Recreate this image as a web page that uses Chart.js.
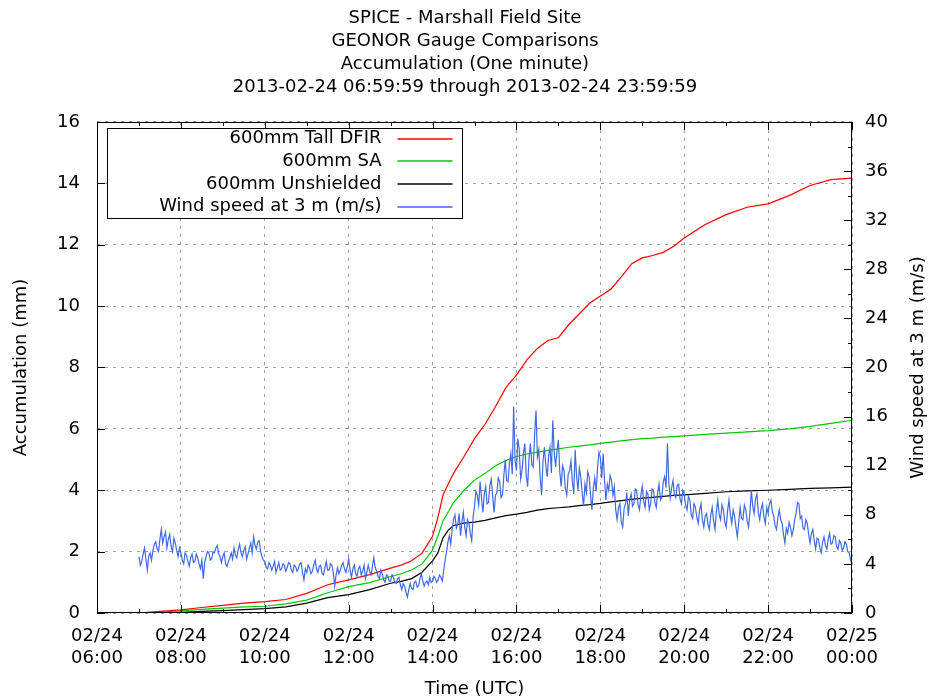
<!DOCTYPE html>
<html>
<head>
<meta charset="utf-8">
<title>SPICE - Marshall Field Site</title>
<script src="https://cdn.jsdelivr.net/npm/chart.js@4/dist/chart.umd.min.js"></script>
<style>
  html, body { margin: 0; padding: 0; background: #fff; }
  canvas { display: block; }
</style>
</head>
<body>
<canvas id="accChart" width="930" height="700"></canvas>
<script>
// ---- data (hours UTC on 2013-02-24, 24 = 02/25 00:00) ----
var accTimes = [7.0, 7.5, 8, 8.5, 9, 9.5, 10, 10.5, 11, 11.5, 12, 12.5, 13, 13.25, 13.5, 13.75,
  14, 14.125, 14.25, 14.375, 14.5, 14.75, 15, 15.25, 15.5, 15.75, 16, 16.25, 16.5, 16.75,
  17, 17.25, 17.5, 17.75, 18, 18.25, 18.5, 18.75, 19, 19.25, 19.5, 19.75, 20, 20.5, 21,
  21.5, 22, 22.5, 23, 23.5, 24];

var tallDfir = [0, 0.05, 0.1, 0.18, 0.25, 0.32, 0.37, 0.44, 0.64, 0.92, 1.08, 1.25, 1.46, 1.56, 1.7, 1.95,
  2.5, 3.1, 3.85, 4.2, 4.55, 5.1, 5.68, 6.15, 6.72, 7.35, 7.75, 8.25, 8.62, 8.88,
  8.97, 9.4, 9.75, 10.1, 10.33, 10.55, 10.95, 11.38, 11.57, 11.65, 11.75, 11.95, 12.22, 12.66, 12.98,
  13.22, 13.33, 13.6, 13.93, 14.12, 14.17];

var sa600 = [0, 0.02, 0.07, 0.12, 0.16, 0.2, 0.22, 0.3, 0.42, 0.66, 0.86, 0.99, 1.19, 1.28, 1.4, 1.6,
  2.05, 2.5, 3.0, 3.3, 3.6, 4.0, 4.33, 4.55, 4.8, 4.97, 5.1, 5.18, 5.24, 5.3,
  5.35, 5.4, 5.44, 5.48, 5.53, 5.57, 5.61, 5.65, 5.68, 5.7, 5.73, 5.75, 5.77, 5.82, 5.86,
  5.9, 5.94, 6.0, 6.08, 6.18, 6.28];

var unshielded = [0, 0, 0.02, 0.05, 0.08, 0.11, 0.14, 0.2, 0.32, 0.5, 0.6, 0.76, 0.97, 1.03, 1.12, 1.33,
  1.7, 1.95, 2.45, 2.7, 2.85, 2.93, 2.96, 3.02, 3.1, 3.17, 3.22, 3.28, 3.35, 3.4,
  3.43, 3.46, 3.5, 3.53, 3.57, 3.62, 3.66, 3.7, 3.74, 3.77, 3.8, 3.83, 3.85, 3.9, 3.95,
  3.98, 4.0, 4.03, 4.06, 4.08, 4.1];

// wind speed, one reading every 2 minutes from 07:00 (one row per hour)
var windStart = 7;
var windStepMin = 2;
var windSpeed = [
  4.6, 3.9, 4.2, 4.8, 5.3, 4.4, 3.5, 4.6, 4.9, 4.3, 5.1, 5.6, 5.8, 5.2, 5.0, 6.0, 6.8, 5.7, 6.2, 6.6, 5.3, 6.0, 6.4, 5.4, 5.0, 6.1, 5.7, 5.1, 4.6, 5.3,
  4.9, 4.3, 4.0, 4.9, 4.7, 4.2, 3.8, 4.5, 4.8, 4.1, 4.2, 4.8, 4.5, 4.0, 3.6, 4.3, 2.8, 4.1, 4.6, 5.0, 4.9, 4.3, 4.4, 5.0, 4.9, 5.3, 5.5, 4.8, 4.6, 4.1,
  4.6, 4.9, 4.0, 3.8, 4.2, 4.5, 4.9, 4.4, 5.3, 4.7, 4.5, 5.2, 5.6, 4.9, 4.6, 5.1, 5.4, 4.4, 4.8, 5.3, 5.7, 4.9, 6.2, 5.5, 5.2, 5.8, 5.9, 5.0, 4.6, 4.3,
  4.2, 3.7, 3.6, 4.1, 3.9, 3.5, 3.8, 4.2, 3.3, 3.7, 4.1, 3.5, 3.6, 4.0, 3.9, 3.4, 3.7, 4.1, 4.0, 3.5, 3.3, 3.9, 3.8, 3.4, 3.6, 4.0, 4.1, 3.3, 2.7, 3.6,
  3.3, 3.9, 3.7, 3.2, 3.4, 3.9, 4.3, 3.6, 3.3, 3.8, 3.9, 3.2, 3.1, 3.7, 4.2, 3.5, 3.5, 4.0, 3.9, 3.3, 2.2, 3.1, 3.7, 3.2, 3.5, 3.9, 4.1, 3.6, 3.3, 3.8,
  4.4, 3.5, 2.9, 3.6, 3.9, 3.2, 3.0, 3.6, 3.8, 3.1, 3.4, 3.9, 2.8, 3.3, 3.9, 3.4, 3.1, 3.8, 4.5, 3.7, 3.4, 3.0, 2.8, 3.5, 3.2, 2.7, 2.5, 3.1, 3.0, 2.6,
  2.6, 3.1, 2.9, 2.5, 2.4, 2.8, 2.9, 2.3, 1.9, 2.4, 2.2, 1.7, 1.3, 1.9, 2.4, 2.0, 1.9, 2.5, 2.6, 2.1, 2.2, 2.8, 3.2, 2.6, 2.2, 2.5, 2.6, 2.3, 2.9, 2.5,
  2.6, 3.0, 2.8, 2.5, 2.7, 3.1, 2.9, 2.6, 3.5, 4.3, 5.0, 5.8, 6.3, 5.6, 6.8, 7.6, 8.0, 6.9, 7.2, 8.1, 6.3, 7.4, 8.2, 7.0, 6.3, 7.6, 7.3, 6.5, 5.9, 7.8,
  8.7, 9.9, 9.6, 8.8, 10.7, 9.4, 8.2, 9.7, 10.3, 8.9, 9.0, 10.4, 10.9, 9.5, 8.2, 9.6, 9.8, 11.0, 10.7, 9.4, 9.6, 11.2, 12.5, 10.8, 10.7, 12.2, 13.0, 11.3, 16.8, 12.4,
  11.6, 14.2, 13.3, 10.9, 11.6, 13.0, 13.8, 11.2, 10.3, 12.6, 13.8, 12.1, 11.9, 14.5, 16.5, 12.7, 13.3, 11.0, 9.6, 12.4, 13.5, 12.0, 11.1, 12.8, 13.5, 11.4, 15.7, 13.1, 11.9, 13.2,
  14.1, 11.5, 10.3, 12.0, 11.6, 10.1, 9.6, 11.3, 11.6, 12.4, 10.7, 9.7, 13.3, 11.2, 10.0, 11.8, 11.1, 9.8, 8.7, 10.5, 9.8, 11.5, 11.1, 9.6, 8.4, 10.2, 11.0, 9.9, 11.8, 13.1,
  12.7, 11.0, 13.0, 10.8, 9.2, 10.5, 10.0, 11.2, 10.8, 9.6, 10.3, 8.4, 7.6, 8.6, 8.9, 7.4, 7.0, 8.5, 8.9, 9.8, 7.9, 9.2, 9.7, 8.7, 8.9, 10.1, 10.0, 8.8, 8.4, 9.6,
  10.3, 9.1, 8.6, 9.9, 9.7, 8.4, 8.9, 10.1, 10.0, 9.0, 8.6, 9.8, 10.5, 9.2, 9.4, 10.7, 11.1, 10.2, 13.8, 10.6, 9.4, 10.2, 10.8, 9.6, 9.4, 10.4, 10.5, 9.3, 8.9, 10.0,
  9.7, 8.8, 8.4, 9.5, 9.2, 8.0, 7.7, 8.9, 8.6, 7.8, 7.3, 8.4, 8.9, 7.6, 7.0, 7.9, 8.1, 7.2, 6.8, 8.0, 8.6, 7.5, 6.8, 8.3, 9.2, 8.0, 7.6, 8.8, 8.4, 7.4,
  7.0, 8.3, 9.2, 8.0, 7.3, 8.4, 7.9, 7.0, 6.2, 7.4, 8.6, 7.7, 7.6, 8.8, 8.4, 7.5, 7.0, 8.2, 10.0, 8.7, 8.1, 9.3, 9.7, 8.2, 7.6, 8.5, 8.9, 7.8, 7.3, 8.6,
  8.1, 8.9, 9.2, 8.3, 7.9, 7.1, 6.8, 7.8, 8.4, 7.6, 7.3, 6.4, 5.7, 6.9, 6.5, 7.4, 7.0, 6.3, 6.8, 7.6, 8.1, 9.0, 8.9, 7.7, 7.9, 6.9, 6.8, 7.6, 7.3, 6.4,
  5.7, 6.5, 6.8, 5.9, 5.2, 6.1, 6.0, 5.3, 4.9, 5.8, 6.2, 5.5, 5.2, 6.0, 6.5, 5.6, 5.7, 6.3, 6.2, 5.4, 5.2, 5.9, 5.7, 5.1, 5.3, 5.8, 5.6, 5.0, 4.9, 4.3,
  4.0
];

var seriesLabels = ['600mm Tall DFIR', '600mm SA', '600mm Unshielded', 'Wind speed at 3 m (m/s)'];
var seriesColors = ['#ff0000', '#00c800', '#000000', '#4169e1'];
var titleLines = ['SPICE - Marshall Field Site', 'GEONOR Gauge Comparisons',
  'Accumulation (One minute)', '2013-02-24 06:59:59 through 2013-02-24 23:59:59'];

var FONT = 'DejaVu Sans';

function pairs(xs, ys) {
  return ys.map(function (v, i) { return {x: xs[i], y: v}; });
}
var windPoints = windSpeed.map(function (v, i) {
  return {x: windStart + i * windStepMin / 60, y: v};
});

// plot frame plus gnuplot style inward ticks
var frameTicks = {
  id: 'frameTicks',
  afterDatasetsDraw: function (chart) {
    var ctx = chart.ctx, a = chart.chartArea;
    var x = chart.scales.x, y = chart.scales.y, y2 = chart.scales.y2;
    ctx.save();
    ctx.strokeStyle = '#000';
    ctx.lineWidth = 1;
    ctx.beginPath();
    var h, v, p, len;
    for (h = 6; h <= 24; h += 1) {
      p = Math.round(x.getPixelForValue(h)) + 0.5;
      len = h % 2 === 0 ? 8 : 4;
      ctx.moveTo(p, a.bottom); ctx.lineTo(p, a.bottom - len);
      ctx.moveTo(p, a.top); ctx.lineTo(p, a.top + len);
    }
    for (v = 0; v <= 16; v += 2) {
      p = Math.round(y.getPixelForValue(v)) + 0.5;
      ctx.moveTo(a.left, p); ctx.lineTo(a.left + 8, p);
    }
    for (v = 0; v <= 40; v += 2) {
      p = Math.round(y2.getPixelForValue(v)) + 0.5;
      len = v % 4 === 0 ? 8 : 4;
      ctx.moveTo(a.right, p); ctx.lineTo(a.right - len, p);
    }
    ctx.stroke();
    ctx.strokeRect(Math.round(a.left) + 0.5, Math.round(a.top) + 0.5,
      Math.round(a.right - a.left) - 1, Math.round(a.bottom - a.top) - 1);
    ctx.restore();
  }
};

// key box in the top left corner, text on the left of the sample line
var keyBox = {
  id: 'keyBox',
  afterDraw: function (chart) {
    var ctx = chart.ctx, a = chart.chartArea;
    var left = Math.round(a.left) + 10.5, top = Math.round(a.top) + 6.5;
    var w = 355, rowH = 22.7;
    ctx.save();
    ctx.fillStyle = '#fff';
    ctx.fillRect(left, top, w, 90);
    ctx.strokeStyle = '#000';
    ctx.lineWidth = 1;
    ctx.strokeRect(left, top, w, 90);
    ctx.font = '18px "' + FONT + '"';
    ctx.textAlign = 'right';
    ctx.textBaseline = 'middle';
    seriesLabels.forEach(function (label, i) {
      var cy = top + 10 + i * rowH;
      ctx.fillStyle = '#000';
      ctx.fillText(label, left + 274, cy);
      ctx.lineWidth = 1.4;
      ctx.strokeStyle = seriesColors[i];
      ctx.beginPath();
      ctx.moveTo(left + 290, Math.round(cy));
      ctx.lineTo(left + 345, Math.round(cy));
      ctx.stroke();
    });
    // right axis title, reading upward like the left one
    ctx.fillStyle = '#000';
    ctx.textAlign = 'center';
    ctx.translate(918, (a.top + a.bottom) / 2);
    ctx.rotate(-Math.PI / 2);
    ctx.fillText('Wind speed at 3 m (m/s)', 0, 0);
    ctx.restore();
  }
};

var ctx = document.getElementById('accChart');
var accChart = new Chart(ctx, {
  type: 'line',
  data: {
    datasets: [
      { label: seriesLabels[0], data: pairs(accTimes, tallDfir), borderColor: seriesColors[0], yAxisID: 'y', order: 1 },
      { label: seriesLabels[1], data: pairs(accTimes, sa600), borderColor: seriesColors[1], yAxisID: 'y', order: 2 },
      { label: seriesLabels[2], data: pairs(accTimes, unshielded), borderColor: seriesColors[2], yAxisID: 'y', order: 3 },
      { label: seriesLabels[3], data: windPoints, borderColor: seriesColors[3], yAxisID: 'y2', order: 0 }
    ]
  },
  options: {
    responsive: false,
    animation: false,
    devicePixelRatio: 1,
    layout: { padding: 0 },
    elements: {
      point: { radius: 0 },
      line: { borderWidth: 1.2, tension: 0, fill: false }
    },
    plugins: {
      legend: { display: false },
      tooltip: { enabled: false },
      title: {
        display: true,
        text: titleLines,
        color: '#000',
        font: { family: FONT, size: 18, weight: 'normal', lineHeight: 1.28 },
        padding: { top: 6.5, bottom: 23.3 }
      }
    },
    scales: {
      x: {
        type: 'linear',
        min: 6, max: 24,
        afterFit: function (s) { s.height = 87; },
        ticks: {
          stepSize: 2,
          color: '#000',
          padding: 12,
          maxRotation: 0,
          font: { family: FONT, size: 18, lineHeight: 1.222 },
          callback: function (v) {
            if (v === 24) return ['02/25', '00:00'];
            return ['02/24', (v < 10 ? '0' : '') + v + ':00'];
          }
        },
        grid: { color: '#a0a0a0', lineWidth: 1, drawTicks: false },
        border: { display: false, dash: [3, 5] },
        title: {
          display: true, text: 'Time (UTC)', color: '#000',
          font: { family: FONT, size: 18, lineHeight: 1.2 },
          padding: { top: 0, bottom: 0 }
        }
      },
      y: {
        position: 'left',
        min: 0, max: 16,
        afterFit: function (s) { s.width = 97; },
        ticks: {
          stepSize: 2, color: '#000', padding: 17,
          font: { family: FONT, size: 18 }
        },
        grid: { color: '#a0a0a0', lineWidth: 1, drawTicks: false },
        border: { display: false, dash: [3, 5] },
        title: {
          display: true, text: 'Accumulation (mm)', color: '#000',
          font: { family: FONT, size: 18, lineHeight: 1.2 },
          padding: { top: 11, bottom: 0 }
        }
      },
      y2: {
        position: 'right',
        min: 0, max: 40,
        afterFit: function (s) { s.width = 78; },
        ticks: {
          stepSize: 4, color: '#000', padding: 13,
          font: { family: FONT, size: 18 }
        },
        grid: { display: false, drawTicks: false },
        border: { display: false }
      }
    }
  },
  plugins: [frameTicks, keyBox]
});
</script>
</body>
</html>
